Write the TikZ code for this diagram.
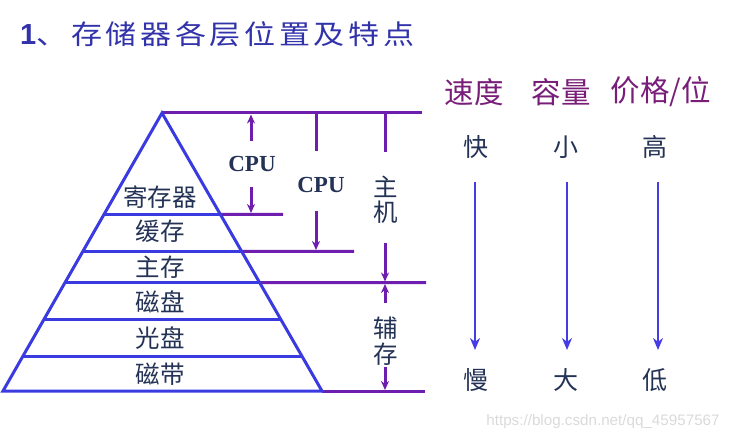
\documentclass[tikz,border=0pt]{standalone}
\usepackage{fontspec}
\setmainfont{Liberation Serif}
\newfontfamily\cjk{Noto Sans CJK SC}
\newfontfamily\cjkwide[FakeStretch=1.15]{Noto Sans CJK SC}
\newfontfamily\sans{Liberation Sans}
\usetikzlibrary{calc,arrows.meta}
\definecolor{triblue}{RGB}{58,58,225}
\definecolor{lpurple}{RGB}{110,30,175}
\definecolor{hpurple}{RGB}{120,30,120}
\definecolor{tblue}{RGB}{50,50,170}
\definecolor{navy}{RGB}{35,50,85}
\definecolor{arrblue}{RGB}{70,60,230}
\definecolor{wm}{RGB}{218,218,218}
\begin{document}
\begin{tikzpicture}[x=1pt,y=-1pt,
  tri/.style={draw=triblue,line width=3pt,line join=miter},
  pline/.style={draw=lpurple,line width=3pt},
  tip/.style={-{Stealth[length=9pt,width=8pt]}},
  rtip/.style={{Stealth[length=9pt,width=8pt]}-},
  rarrow/.style={draw=arrblue,line width=2.8pt,-{Stealth[length=12pt,width=10pt]}},
  lvl/.style={font=\cjk\fontsize{24.5}{26}\selectfont,text=navy,inner sep=0pt},
  cpu/.style={font=\fontsize{23}{25}\selectfont\bfseries,text=navy,inner sep=0pt},
  hdr/.style={font=\cjk\fontsize{29.5}{31}\selectfont,text=hpurple,inner sep=0pt},
  val/.style={font=\cjk\fontsize{25}{27}\selectfont,text=navy,inner sep=0pt}]
\useasboundingbox (0,0) rectangle (734,441);
% title
\node[anchor=west,inner sep=0pt,text=tblue] (title) at (20,34)
  {\sans\bfseries\fontsize{29}{31}\selectfont 1\cjkwide\mdseries\fontsize{27}{29}\selectfont\makebox[378pt][s]{、\hfill 存\hfill 储\hfill 器\hfill 各\hfill 层\hfill 位\hfill 置\hfill 及\hfill 特\hfill 点}};
% pyramid
\coordinate (A) at (162,113);
\coordinate (BL) at (3,391);
\coordinate (BR) at (322,391);
\foreach \n/\f in {1/0.3644,2/0.4975,3/0.6104,4/0.7421,5/0.8766}{
  \coordinate (L\n) at ($(A)!\f!(BL)$);
  \coordinate (R\n) at ($(A)!\f!(BR)$);
  \draw[tri] (L\n) -- (R\n);
}
% purple bus lines
\coordinate (T0) at (422,113);
\coordinate (E1) at (283,214.3);
\coordinate (E2) at (354,251.3);
\coordinate (E3) at (426,282.7);
\coordinate (E6) at (425,391);
\draw[pline] (A) -- (T0);
\draw[pline] (R1) -- (E1);
\draw[pline] (R2) -- (E2);
\draw[pline] (R3) -- (E3);
\draw[pline] (BR) -- (E6);
\draw[tri] (BL) -- (A) -- (BR) -- cycle;
% level labels
\node[lvl] (n1) at (160,197) {寄存器};
\node[lvl] (n2) at (160,231) {缓存};
\node[lvl] (n3) at (160,267) {主存};
\node[lvl] (n4) at (160,302) {磁盘};
\node[lvl] (n5) at (160,338) {光盘};
\node[lvl] (n6) at (160,374) {磁带};
% vertical range markers
\node[cpu] (cpu1) at (252,164) {CPU};
\node[cpu] (cpu2) at (321,185) {CPU};
\node[lvl] (zj) at (386,200) {\shortstack{主\\[0pt]机}};
\node[lvl] (fc) at (386,341) {\shortstack{辅\\[0pt]存}};
\coordinate (a1t) at (251,114.5); \coordinate (a1m) at (251,141);
\coordinate (a1n) at (251,187); \coordinate (a1b) at (251,213);
\draw[pline,rtip] (a1t) -- (a1m);
\draw[pline,tip] (a1n) -- (a1b);
\coordinate (a2t) at (316,113); \coordinate (a2m) at (316,151);
\coordinate (a2n) at (316,211); \coordinate (a2b) at (316,250);
\draw[pline] (a2t) -- (a2m);
\draw[pline,tip] (a2n) -- (a2b);
\coordinate (a3t) at (385,113); \coordinate (a3m) at (385,152);
\coordinate (a3n) at (385,243); \coordinate (a3b) at (385,281.5);
\coordinate (a4t) at (385,284); \coordinate (a4m) at (385,303);
\coordinate (a4n) at (385,367); \coordinate (a4b) at (385,390);
\draw[pline] (a3t) -- (a3m);
\draw[pline,tip] (a3n) -- (a3b);
\draw[pline,rtip] (a4t) -- (a4m);
\draw[pline,tip] (a4n) -- (a4b);
% right side
\node[hdr] (h1) at (474,92) {速度};
\node[hdr] (h2) at (561,92) {容量};
\node[hdr] (h3) at (661,92) {价格/位};
\node[val] (k1) at (476,147) {快};
\node[val] (k2) at (566,147) {小};
\node[val] (k3) at (655,147) {高};
\node[val] (m1) at (476,380) {慢};
\node[val] (m2) at (566,380) {大};
\node[val] (m3) at (655,380) {低};
\coordinate (s1) at (475,182); \coordinate (t1) at (475,350);
\coordinate (s2) at (567,182); \coordinate (t2) at (567,350);
\coordinate (s3) at (658,182); \coordinate (t3) at (658,350);
\draw[rarrow] (s1) -- (t1);
\draw[rarrow] (s2) -- (t2);
\draw[rarrow] (s3) -- (t3);
% watermark
\node[font=\sans\fontsize{15.2}{17}\selectfont,text=wm,inner sep=0pt] (wmk) at (603,422) {https://blog.csdn.net/qq\_45957567};
\end{tikzpicture}
\end{document}
